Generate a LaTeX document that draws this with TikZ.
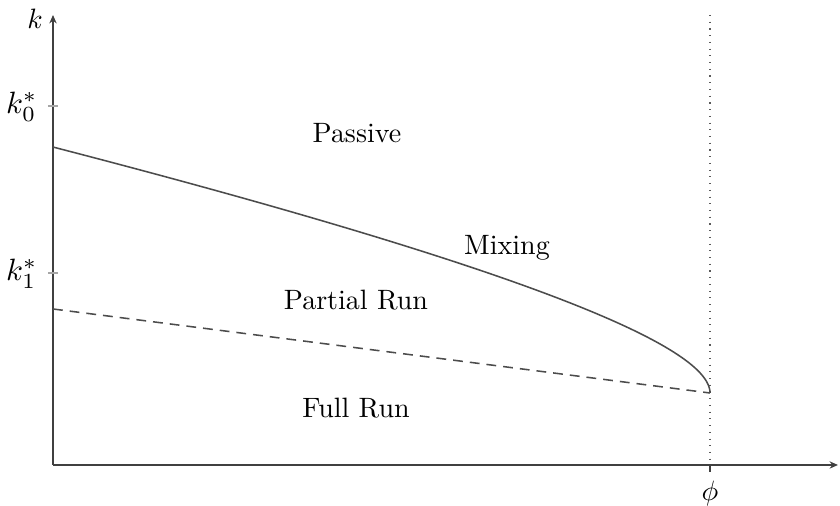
\documentclass[tikz,border=0pt]{standalone}
\usetikzlibrary{arrows.meta}
\begin{document}
\begin{tikzpicture}[x=0.357pt, y=-0.357pt,
  axis/.style={draw=black!75, line width=0.5pt, -{Stealth[length=3pt, width=2.6pt]}},
  tickmark/.style={draw=black!35, line width=0.5pt},
  boundary/.style={draw=black!70, line width=0.55pt},
  split/.style={draw=black!70, line width=0.55pt, dash pattern=on 3.5pt off 2.5pt},
  guide/.style={draw=black!65, line width=0.4pt, dotted},
  region/.style={font=\normalsize, inner sep=0pt}]
\useasboundingbox (0,0) rectangle (840,506);

% axes
\coordinate (O) at (53,465);
\coordinate (ytop) at (53,15);
\coordinate (xend) at (838,465);
\draw[axis] (O) -- (ytop);
\draw[axis] (O) -- (xend);

% vertical ticks and labels
\coordinate (t0a) at (48,106); \coordinate (t0b) at (58,106);
\coordinate (t1a) at (48,273); \coordinate (t1b) at (58,273);
\draw[tickmark] (t0a) -- (t0b);
\draw[tickmark] (t1a) -- (t1b);
\node[anchor=east, inner sep=0pt, scale=1.1] (k0) at (38,107) {$k_0^*$};
\node[anchor=east, inner sep=0pt, scale=1.1] (k1) at (38,274) {$k_1^*$};
\node[inner sep=0pt] (klab) at (35,19) {$k$};

% phi marker
\coordinate (phitop) at (710,15);
\coordinate (phibase) at (710,465);
\coordinate (phitick) at (710,472);
\draw[guide] (phitop) -- (phibase);
\draw[draw=black!75, line width=0.5pt] (phibase) -- (phitick);
\node[inner sep=0pt] (philab) at (710,494) {$\phi$};

% boundaries between regions
\coordinate (cusp) at (710,393);
\coordinate (dstart) at (53,309);
\draw[boundary] plot[domain=0:25.632, samples=140, variable=\t]
  ({710-\t*\t}, {393-0.1434*\t*\t-5.92*\t});
\draw[split] (dstart) -- (cusp);

% region labels
\node[region] (passive) at (357,133) {Passive};
\node[region] (mixing) at (507,248) {Mixing};
\node[region] (partial) at (356,300) {Partial Run};
\node[region] (full) at (356,408) {Full Run};
\end{tikzpicture}
\end{document}
